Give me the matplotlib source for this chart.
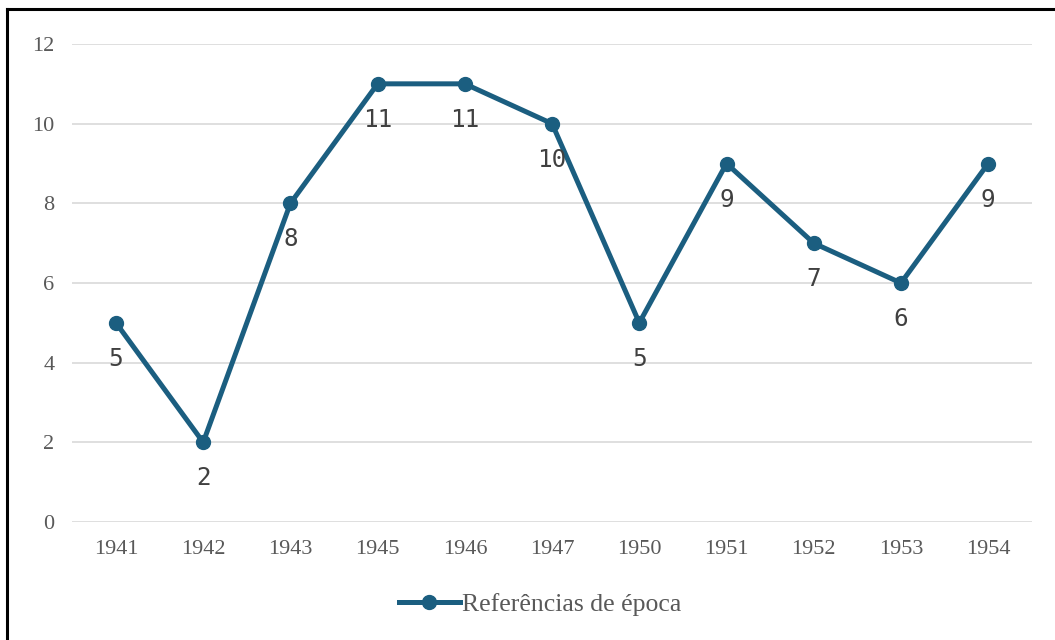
import matplotlib
matplotlib.use("Agg")
import matplotlib.pyplot as plt
from matplotlib.lines import Line2D

# data
years = ["1941", "1942", "1943", "1945", "1946", "1947", "1950", "1951", "1952", "1953", "1954"]
refs = [5, 2, 8, 11, 11, 10, 5, 9, 7, 6, 9]
series_name = "Referências de época"

line_color = "#1b5e80"
text_gray = "#595959"

fig = plt.figure(figsize=(10.55, 6.4), dpi=100)
ax = fig.add_axes([0.0686, 0.184375, 0.9094, 0.746875])

x = range(len(years))
ax.plot(x, refs, color=line_color, lw=3.6, marker="o", ms=10,
        solid_joinstyle="round", label=series_name, zorder=3)

for xi, v in zip(x, refs):
    ax.annotate(str(v), (xi, v), xytext=(0, -26), textcoords="offset points",
                ha="center", va="center", fontsize=17.5,
                family="DejaVu Sans Mono", color="#404040", zorder=4)

ax.set_xlim(-0.5, len(years) - 0.5)
ax.set_ylim(0, 12)
ax.set_yticks(range(0, 13, 2))
ax.set_xticks(list(x))
ax.set_xticklabels(years)
ax.grid(axis="y", color="#d9d9d9", lw=1.2)
ax.set_axisbelow(True)
for s in ax.spines.values():
    s.set_visible(False)
ax.tick_params(length=0, labelsize=16, labelcolor=text_gray)
ax.tick_params(axis="x", pad=13)
ax.tick_params(axis="y", pad=13)
for lab in ax.get_xticklabels() + ax.get_yticklabels():
    lab.set_family("Liberation Serif")

handle = Line2D([], [], color=line_color, lw=3.6, marker="o", ms=10)
fig.legend([handle], [series_name], loc="center", bbox_to_anchor=(0.512, 0.055),
           frameon=False, handlelength=2.35, handletextpad=0.08,
           prop={"family": "Liberation Serif", "size": 18.5}, labelcolor=text_gray)

# frame of the original screenshot (left and top edges only)
fig.add_artist(Line2D([7 / 1055, 7 / 1055], [0, 1 - 9 / 640], color="black", lw=2.2))
fig.add_artist(Line2D([7 / 1055, 1], [1 - 9 / 640, 1 - 9 / 640], color="black", lw=2.2))

fig.savefig("out.png", dpi=100)
